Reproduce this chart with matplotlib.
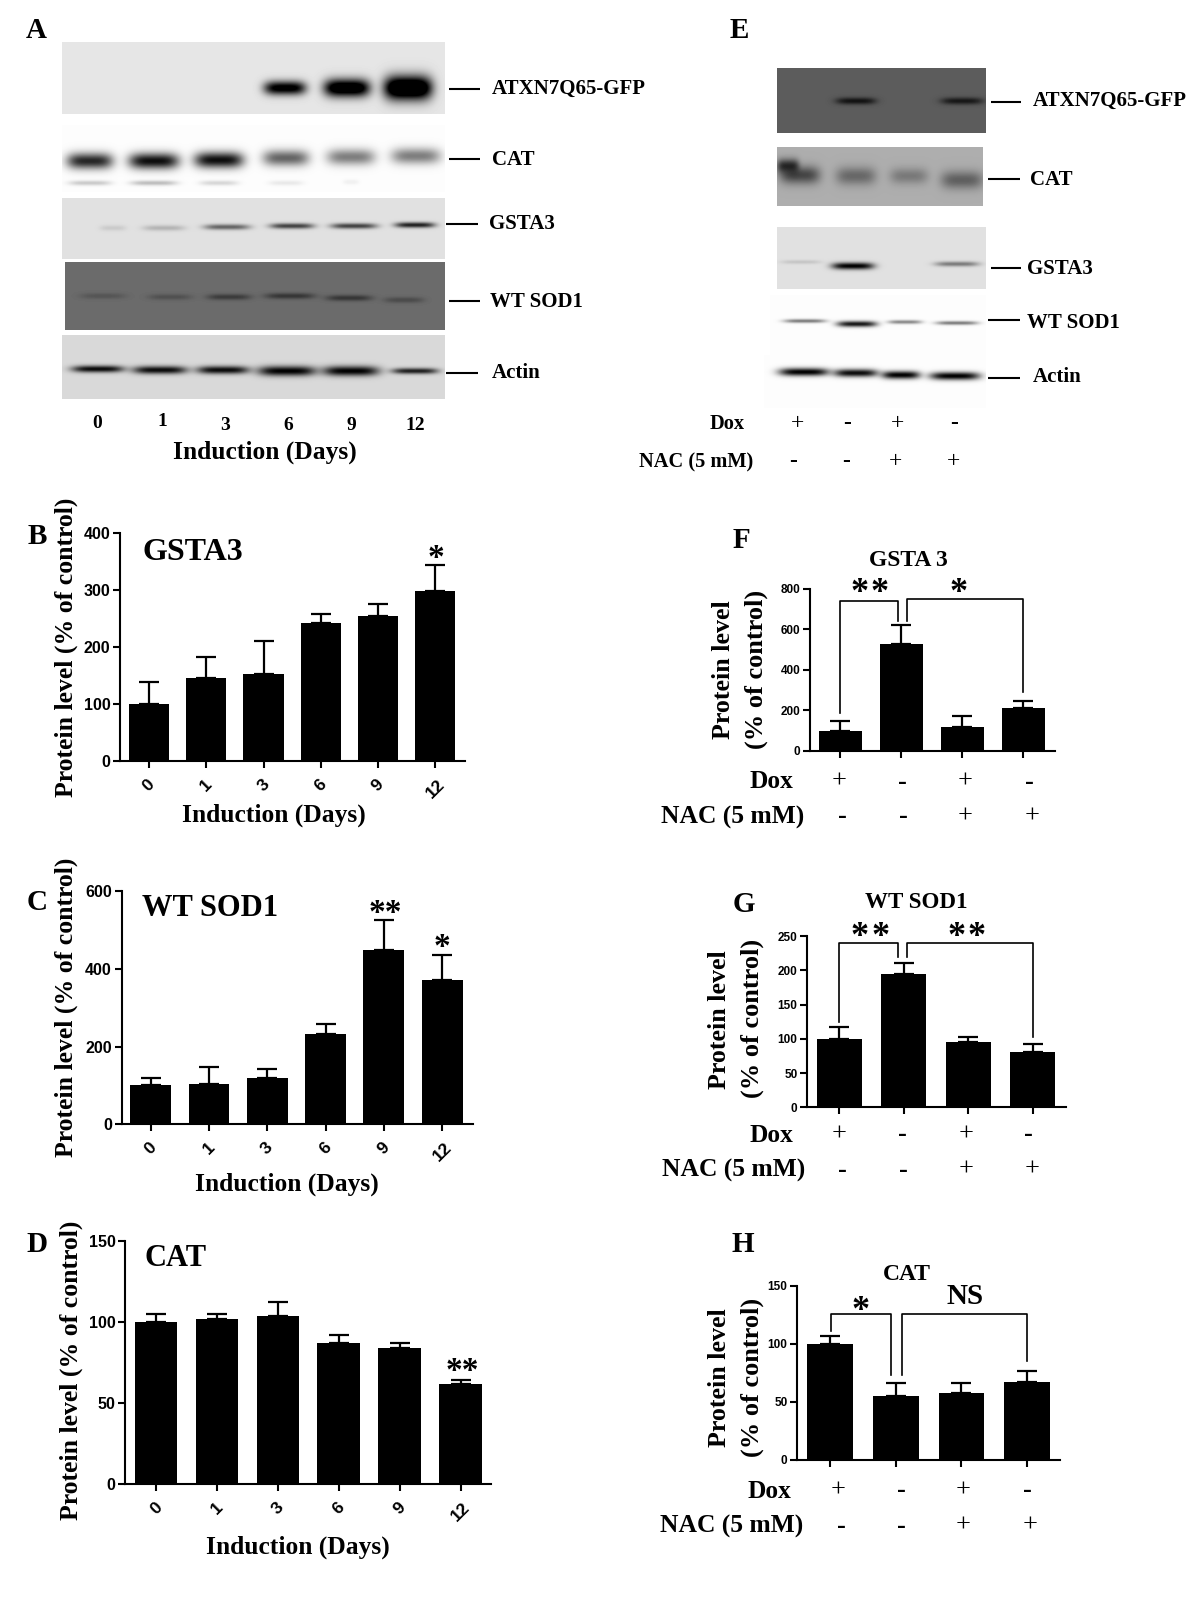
import numpy as np
import matplotlib
matplotlib.use('Agg')
import matplotlib.pyplot as plt

plt.rcParams['font.family'] = ['Liberation Serif', 'DejaVu Sans']
plt.rcParams['font.weight'] = 'bold'

W, H = 1200, 1602

days = ['0', '1', '3', '6', '9', '12']

# time course bars
gsta3_days = [100, 146, 152, 242, 254, 298]
gsta3_days_err = [39, 37, 59, 15, 21, 45]
sod1_days = [100, 105, 120, 232, 448, 372]
sod1_days_err = [18, 43, 22, 25, 79, 65]
cat_days = [100, 102, 104, 87, 84, 62]
cat_days_err = [5, 3, 8.5, 5, 3, 2]

# Dox / NAC bars
gsta3_nac = [100, 527, 120, 210]
gsta3_nac_err = [46, 93, 53, 37]
sod1_nac = [100, 195, 95, 80]
sod1_nac_err = [17, 16, 8, 13]
cat_nac = [100, 55, 58, 67]
cat_nac_err = [7, 11, 8, 10]

dox_signs = ['+', '-', '+', '-']
nac_signs = ['-', '-', '+', '+']

# band darkness, 0 = nothing, 1 = black at the centre, above 1 saturates
a_atxn = [0, 0, 0, 1.1, 1.3, 1.5]
a_cat = [0.85, 0.95, 0.95, 0.6, 0.5, 0.5]
a_cat_low = [0.2, 0.25, 0.15, 0.08, 0.05, 0]
a_gsta3 = [0.1, 0.2, 0.55, 0.7, 0.7, 0.85]
a_sod1 = [0.2, 0.25, 0.45, 0.5, 0.5, 0.3]
a_actin = [0.95, 0.95, 0.95, 1, 1, 0.85]
e_atxn = [0, 0.8, 0, 0.75]
e_cat = [0.6, 0.4, 0.3, 0.45]
e_gsta3 = [0.12, 1, 0, 0.45]
e_sod1 = [0.5, 0.9, 0.45, 0.5]
e_actin = [1, 0.95, 1, 1]

fig = plt.figure(figsize=(12, 16.02), dpi=100, facecolor='white')
ov = fig.add_axes([0, 0, 1, 1], zorder=5)
ov.patch.set_alpha(0)
ov.axis('off')


def blot(x0, x1, y0, y1, bg, levels, xs, ys, hw, hh):
    xx, yy = np.meshgrid(np.arange(x0, x1) + 0.5, np.arange(y0, y1) + 0.5)
    img = np.full(xx.shape, float(bg))
    n = len(levels)
    ys = np.broadcast_to(ys, n)
    hw = np.broadcast_to(hw, n)
    hh = np.broadcast_to(hh, n)
    for i in range(n):
        p = np.exp(-((xx - xs[i]) / hw[i])**4) * np.exp(-((yy - ys[i]) / hh[i])**2)
        img = img * np.clip(1 - levels[i] * p, 0, 1)
    ov.imshow(img, extent=(x0, x1, y1, y0), cmap='gray', vmin=0, vmax=1,
              aspect='auto', interpolation='bilinear', zorder=1)


def label_line(x0, x1, y, name, tx, ty, size=15):
    ov.plot([x0, x1], [y, y], color='black', lw=1.5, solid_capstyle='butt')
    ov.text(tx, ty, name, ha='left', va='center', fontsize=size)


def txt(x, y, s, size, **kw):
    ov.text(x, y, s, ha='center', va='center', fontsize=size, **kw)


def star(x, y, s, size=24):
    ov.text(x, y, s, ha='center', va='center_baseline', fontsize=size)


def bars(box, xlim, ymax, ticks, vals, errs, labels=None, size=11.5):
    left, top, right, bottom = box
    ax = fig.add_axes([left / W, 1 - bottom / H, (right - left) / W, (bottom - top) / H])
    x = np.arange(len(vals))
    ax.bar(x, vals, width=0.7, color='black')
    ax.errorbar(x, vals, yerr=[np.zeros(len(vals)), errs], fmt='none', ecolor='black',
                elinewidth=1.6, capsize=7, capthick=1.6)
    ax.set_xlim(*xlim)
    ax.set_ylim(0, ymax)
    ax.set_yticks(ticks)
    ax.set_xticks(x)
    ax.spines['top'].set_visible(False)
    ax.spines['right'].set_visible(False)
    ax.spines['left'].set_linewidth(1.5)
    ax.spines['bottom'].set_linewidth(1.5)
    ax.tick_params(length=5, width=1.5, pad=2)
    ax.tick_params(axis='x', pad=6)
    for t in ax.get_yticklabels():
        t.set_fontfamily('Liberation Sans')
        t.set_fontsize(size)
    if labels is None:
        ax.set_xticklabels([])
    else:
        ax.set_xticklabels(labels, rotation=45, ha='center', fontfamily='Liberation Sans',
                           fontsize=size + 1)
    return ax


def bracket(ax, x0, x1, y, drop0, drop1):
    ax.plot([x0, x0, x1, x1], [drop0, y, y, drop1], color='black', lw=1.2, clip_on=False)


def signs(xs, y, marks, size=19):
    for x, m in zip(xs, marks):
        txt(x, y, m, size, fontweight='normal' if m == '+' else 'bold')


# panel A blots
blot(62, 445, 42, 114, 0.9, a_atxn, [98, 160, 223, 285, 347, 408], 88,
     [21, 21, 21, 21, 23, 24], [5, 5, 5, 7, 9, 12])
blot(62, 445, 125, 192, 0.99, a_cat + a_cat_low,
     [90, 154, 219, 286, 351, 416] * 2,
     [161, 161, 160, 158, 157, 156, 183, 183, 183, 183, 182, 182],
     [23, 25, 24.5, 23, 24, 24.5, 21, 23, 19, 17, 8, 5],
     [8] * 6 + [2.5] * 6)
blot(62, 445, 198, 259, 0.88, a_gsta3, [113, 164, 227, 292, 354, 415],
     [228, 228, 227, 226, 226, 225], [13, 21, 23, 22, 23, 20], 2.8)
blot(65, 445, 262, 330, 0.42, a_sod1, [103, 170, 229, 290, 349, 404],
     [296, 297, 297, 296, 298, 300], [23, 22, 22, 25, 23, 20], 3)
blot(62, 445, 335, 399, 0.85, a_actin, [98, 160, 223, 287, 351, 415],
     [369, 370, 370, 371, 371, 371], [26, 27, 26, 29, 28, 23], [3.5, 4, 4, 5, 5, 3])

label_line(449, 480, 89, 'ATXN7Q65-GFP', 492, 89)
label_line(449, 480, 159, 'CAT', 492, 160)
label_line(446, 478, 224, 'GSTA3', 489.5, 224)
label_line(449, 480, 301, 'WT SOD1', 489.5, 302)
label_line(446, 478, 373, 'Actin', 492, 373)

for x, y, s in zip([97, 162, 225, 288, 351, 415], [423, 422, 425, 425, 425, 425], days):
    txt(x, y, s, 14)
txt(265, 452, 'Induction (Days)', 18.4)

# panel E blots
blot(777, 986, 68, 133, 0.36, e_atxn, [801, 856, 909, 962], 101, [20, 20, 20, 21], 3.5)
blot(777, 983, 147, 206, 0.68, e_cat + [0.75], [800, 856, 909, 962, 788],
     [175, 176, 176, 180, 166], [20, 20, 19, 21, 11], [9, 9, 8, 9, 7])
blot(777, 986, 227, 289, 0.88, e_gsta3, [801, 853, 909, 957],
     [262, 266, 262, 264], [20, 21, 17, 22], [2, 3.5, 2, 2.5])
blot(770, 986, 295, 355, 0.99, e_sod1, [805, 857, 905, 957],
     [321, 324, 322, 323], [21, 20, 17, 21], [2, 3, 2, 2])
blot(764, 986, 355, 408, 0.99, e_actin, [804, 856, 901, 955],
     [372, 373, 375, 376], [25, 22, 19, 25], [4, 4, 4, 4])

label_line(991, 1021, 102, 'ATXN7Q65-GFP', 1032.5, 101)
label_line(988, 1020, 179, 'CAT', 1030, 180)
label_line(991, 1021, 268, 'GSTA3', 1027, 269)
label_line(988, 1020, 320, 'WT SOD1', 1027, 323)
label_line(988, 1020, 378, 'Actin', 1032.5, 377)

txt(727, 424, 'Dox', 14.7)
txt(696, 462, 'NAC (5 mM)', 14.7)
signs([798, 847.5, 898, 954], 424, dox_signs, 17)
signs([793, 846, 896, 954], 462, nac_signs, 17)

# panels B, C, D
bars((120, 532.7, 465, 761), (-0.507, 5.52), 400, [0, 100, 200, 300, 400], gsta3_days, gsta3_days_err, days)
bars((121.7, 891.3, 473, 1124.3), (-0.5, 5.53), 600, [0, 200, 400, 600], sod1_days, sod1_days_err, days)
bars((125.3, 1241, 491, 1484), (-0.507, 5.5), 150, [0, 50, 100, 150], cat_days, cat_days_err, days)

ylab = 'Protein level (% of control)'
txt(66, 647, ylab, 18.5, rotation=90)
txt(66, 1007, ylab, 18.5, rotation=90)
txt(71, 1370, ylab, 18.5, rotation=90)
txt(274, 815, 'Induction (Days)', 18.4)
txt(287, 1184, 'Induction (Days)', 18.4)
txt(298, 1547, 'Induction (Days)', 18.4)
txt(193, 552, 'GSTA3', 23)
txt(210, 909, 'WT SOD1', 22)
txt(176, 1259, 'CAT', 22)
star(436, 555, '*')
star(385, 910, '**')
star(442, 944, '*')
star(462, 1368, '**')

# panels F, G, H
ax_f = bars((810, 589, 1055, 751), (-0.497, 3.52), 800, [0, 200, 400, 600, 800], gsta3_nac, gsta3_nac_err, size=8.5)
ax_g = bars((807.3, 936, 1066, 1107.3), (-0.496, 3.52), 250, [0, 50, 100, 150, 200, 250], sod1_nac, sod1_nac_err, size=8.5)
ax_h = bars((797.3, 1286, 1060, 1460), (-0.5, 3.5), 150, [0, 50, 100, 150], cat_nac, cat_nac_err, size=8.5)

bracket(ax_f, 0, 0.945, 740, 186, 640)
bracket(ax_f, 1.09, 3.0, 749, 640, 293)
bracket(ax_g, 0, 0.915, 240, 125, 219)
bracket(ax_g, 1.054, 3.0, 240, 219, 103)
bracket(ax_h, 0.02, 0.92, 126, 111, 73)
bracket(ax_h, 1.088, 3.0, 126, 73, 85)

txt(723, 670, 'Protein level', 18.7, rotation=90)
txt(756, 669, '(% of control)', 19, rotation=90)
txt(719, 1020, 'Protein level', 18.7, rotation=90)
txt(752, 1018, '(% of control)', 19, rotation=90)
txt(719, 1378, 'Protein level', 18.7, rotation=90)
txt(752, 1377, '(% of control)', 19, rotation=90)

txt(908, 561, 'GSTA 3', 17)
txt(916, 902, 'WT SOD1', 16.6)
txt(907, 1275, 'CAT', 17)
for x, y in [(860, 590), (880, 590), (959, 590), (860, 933), (881, 933), (957, 933), (977, 933), (861, 1307)]:
    star(x, y, '*', 26)
txt(965, 1296, 'NS', 21)

for dy, ny, xd, xn, dx, nx in [(782, 817, 771, 733, [839, 902, 965, 1029], [842, 903, 965, 1032]),
                               (1135, 1170, 771, 734, [839, 902, 966, 1028], [842, 903, 966, 1032]),
                               (1491, 1526, 769, 732, [838, 901, 963, 1027], [841, 901, 963, 1030])]:
    txt(xd, dy, 'Dox', 18.3)
    txt(xn, ny, 'NAC (5 mM)', 18.4)
    signs(dx, dy, dox_signs)
    signs(nx, ny, nac_signs)

# panel letters
for x, y, s in [(36, 30, 'A'), (37, 537, 'B'), (37, 902, 'C'), (37, 1245, 'D'),
                (739, 30, 'E'), (741, 541, 'F'), (744, 904, 'G'), (743, 1244, 'H')]:
    txt(x, y, s, 21)

ov.set_xlim(0, W)
ov.set_ylim(H, 0)
fig.savefig('out.png', dpi=100)
